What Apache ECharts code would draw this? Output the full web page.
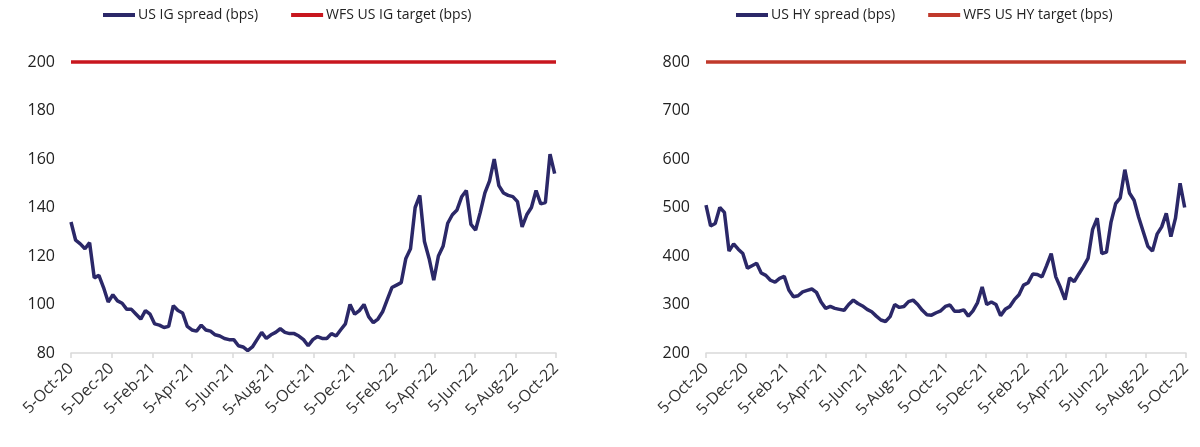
<!DOCTYPE html>
<html>
<head>
<meta charset="utf-8">
<script src="https://cdn.jsdelivr.net/npm/echarts@6/dist/echarts.min.js"></script>
<style>
html, body { margin: 0; padding: 0; background: #fff; }
#chart { width: 1200px; height: 447px; }
</style>
</head>
<body>
<div id="chart"></div>
<script>
// x-axis tick dates (every two months)
var tickDates = ['2020-10-05', '2020-12-05', '2021-02-05', '2021-04-05', '2021-06-05', '2021-08-05',
    '2021-10-05', '2021-12-05', '2022-02-05', '2022-04-05', '2022-06-05', '2022-08-05', '2022-10-05'];

// weekly readings starting 5-Oct-20
var firstWeek = '2020-10-05';

var igSpread = [134, 126.5, 125, 123, 125.5, 111, 112, 107, 101, 104,
    101.5, 100.5, 98, 98, 96, 94, 97.5, 96, 92, 91.5,
    90.5, 91, 99.5, 97.5, 96.5, 91, 89.5, 89, 91.5, 89.5,
    89, 87.5, 87, 86, 85.5, 85.5, 83, 82.5, 81, 82.5,
    85.5, 88.5, 86, 87.5, 88.5, 90, 88.5, 88, 88, 87,
    85.5, 83, 85.5, 86.8, 86, 86, 88, 87, 89.6, 92,
    100, 96, 97.5, 100, 95, 92.5, 94, 97, 102, 107,
    108, 109, 119, 123, 140, 145, 126, 119, 110, 120,
    124, 133.5, 137, 139, 144.4, 147, 133, 130.7, 138, 146,
    151, 160, 149, 146, 145, 144.5, 142.4, 132, 137, 140,
    147, 141.5, 142, 162, 154];

var hySpread = [505, 462, 467, 500, 490, 410, 425, 414, 405, 375,
    380, 385, 365, 360, 350, 346, 354, 358, 330, 316,
    318, 326, 329, 332, 325, 305, 292, 296, 292, 290,
    288, 300, 309, 302, 297, 290, 285, 276, 268, 265,
    275, 300, 294, 296, 306, 309, 300, 288, 279, 278,
    283, 287, 296, 299, 286, 286, 289, 276, 287, 304,
    336, 300, 305, 300, 277, 290, 296, 310, 320, 340,
    345, 363, 362, 357, 380, 405, 357, 335, 310, 355,
    347, 363, 378, 395, 455, 478, 405, 408, 470, 508,
    520, 578, 530, 515, 480, 450, 420, 410, 445, 460,
    488, 440, 478, 550, 500];

var igTarget = 200;
var hyTarget = 800;

var monthNames = ['Jan', 'Feb', 'Mar', 'Apr', 'May', 'Jun', 'Jul', 'Aug', 'Sep', 'Oct', 'Nov', 'Dec'];

function toTime(s) {
    var p = s.split('-');
    return new Date(+p[0], +p[1] - 1, +p[2]).getTime();
}

function weeklyDates(start, count) {
    var t = toTime(start);
    var out = [];
    for (var i = 0; i < count; i++) {
        var d = new Date(t);
        d.setDate(d.getDate() + 7 * i);
        out.push(d.getTime());
    }
    return out;
}

function pairs(dates, values) {
    return values.map(function(v, i) { return [dates[i], v]; });
}

function fmtDate(val) {
    var d = new Date(val);
    return d.getDate() + '-' + monthNames[d.getMonth()] + '-' + String(d.getFullYear()).slice(2);
}

var weeks = weeklyDates(firstWeek, igSpread.length);
var ticks = tickDates.map(toTime);
var xMin = ticks[0], xMax = ticks[ticks.length - 1];

var fontFamily = '"Open Sans", "Noto Sans", sans-serif';
var navy = '#2B2868';

// value axis on timestamps so ticks can sit on the 5th of every other month
function xAxisFor(gridIndex) {
    return {
        type: 'value',
        gridIndex: gridIndex,
        min: xMin,
        max: xMax,
        axisLine: { show: true, onZero: false, lineStyle: { color: '#d9d9d9', width: 1.5 } },
        axisTick: { show: true, customValues: ticks, length: 5, lineStyle: { color: '#d9d9d9', width: 1.5 } },
        axisLabel: {
            customValues: ticks,
            rotate: 45,
            formatter: fmtDate,
            fontSize: 16,
            color: '#333',
            fontFamily: fontFamily,
            margin: 13,
            hideOverlap: false,
            showMinLabel: true,
            showMaxLabel: true
        },
        splitLine: { show: false }
    };
}

function yAxisFor(gridIndex, min, max, interval) {
    return {
        type: 'value',
        gridIndex: gridIndex,
        min: min,
        max: max,
        interval: interval,
        axisLine: { show: false },
        axisTick: { show: false },
        splitLine: { show: false },
        axisLabel: { fontSize: 16, color: '#222', fontFamily: fontFamily, margin: 16 }
    };
}

var chart = echarts.init(document.getElementById('chart'));

var option = {
    animation: false,
    backgroundColor: '#fff',
    legend: [
        {
            data: ['US IG spread (bps)', 'WFS US IG target (bps)'],
            left: 98, top: 3,
            icon: 'rect', itemWidth: 32, itemHeight: 4, itemGap: 33,
            textStyle: { fontSize: 14, color: '#222', fontFamily: fontFamily, padding: [0, 0, 0, -2] }
        },
        {
            data: ['US HY spread (bps)', 'WFS US HY target (bps)'],
            left: 731, top: 3,
            icon: 'rect', itemWidth: 32, itemHeight: 4, itemGap: 33,
            textStyle: { fontSize: 14, color: '#222', fontFamily: fontFamily, padding: [0, 0, 0, -2] }
        }
    ],
    grid: [
        { left: 71, top: 62, width: 485, height: 291 },
        { left: 706, top: 62, width: 480, height: 291 }
    ],
    xAxis: [xAxisFor(0), xAxisFor(1)],
    yAxis: [yAxisFor(0, 80, 200, 20), yAxisFor(1, 200, 800, 100)],
    series: [
        {
            name: 'US IG spread (bps)', type: 'line', xAxisIndex: 0, yAxisIndex: 0,
            data: pairs(weeks, igSpread), showSymbol: false, color: navy,
            lineStyle: { width: 3.5, color: navy }
        },
        {
            name: 'WFS US IG target (bps)', type: 'line', xAxisIndex: 0, yAxisIndex: 0,
            data: [[xMin, igTarget], [xMax, igTarget]], showSymbol: false, clip: false, color: '#C8161E',
            lineStyle: { width: 3.5, color: '#C8161E' }
        },
        {
            name: 'US HY spread (bps)', type: 'line', xAxisIndex: 1, yAxisIndex: 1,
            data: pairs(weeks, hySpread), showSymbol: false, color: navy,
            lineStyle: { width: 3.5, color: navy }
        },
        {
            name: 'WFS US HY target (bps)', type: 'line', xAxisIndex: 1, yAxisIndex: 1,
            data: [[xMin, hyTarget], [xMax, hyTarget]], showSymbol: false, clip: false, color: '#C0392B',
            lineStyle: { width: 3.5, color: '#C0392B' }
        }
    ]
};

chart.setOption(option);
</script>
</body>
</html>
